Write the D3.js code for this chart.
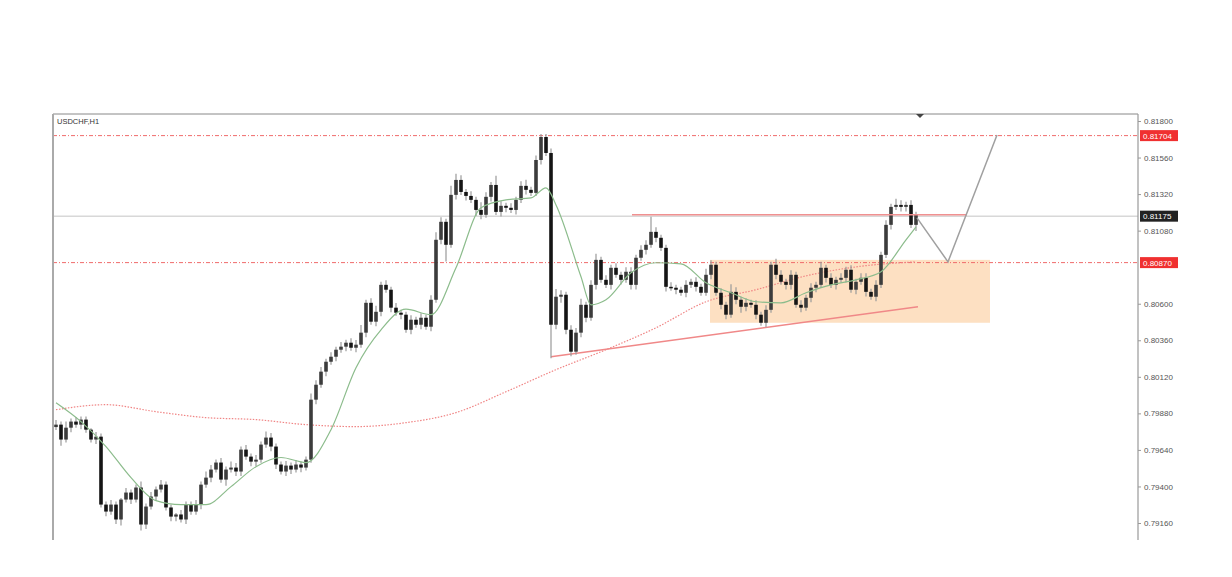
<!DOCTYPE html>
<html><head><meta charset="utf-8">
<script src="https://cdn.jsdelivr.net/npm/d3@7"></script>
<style>html,body{margin:0;padding:0;background:#fff}svg{display:block}</style>
</head><body>
<svg id="chart" width="1232" height="577"></svg>
<script>
// ---- data (USDCHF, H1) ----
const symbolTitle = "USDCHF,H1";
const firstOpen = 0.79790;
const closes = [
0.79806,0.79708,0.79786,0.79826,0.79806,0.79839,0.79773,0.79708,0.79727,0.79281,
0.79235,0.79281,0.79183,0.79314,0.79360,0.79314,0.79393,0.79150,0.79268,0.79334,
0.79380,0.79412,0.79262,0.79202,0.79216,0.79183,0.79281,0.79235,0.79281,0.79412,
0.79458,0.79511,0.79557,0.79445,0.79511,0.79524,0.79498,0.79642,0.79596,0.79563,
0.79576,0.79675,0.79721,0.79662,0.79544,0.79498,0.79537,0.79511,0.79544,0.79524,
0.79576,0.79970,0.80068,0.80154,0.80219,0.80252,0.80298,0.80318,0.80344,0.80311,
0.80331,0.80410,0.80606,0.80482,0.80547,0.80724,0.80692,0.80574,0.80541,0.80528,
0.80429,0.80495,0.80462,0.80508,0.80449,0.80626,0.81020,0.81138,0.80987,0.81315,
0.81413,0.81334,0.81308,0.81282,0.81216,0.81184,0.81302,0.81380,0.81203,0.81243,
0.81230,0.81216,0.81282,0.81374,0.81348,0.81328,0.81544,0.81695,0.81590,0.80462,
0.80646,0.80659,0.80429,0.80285,0.80410,0.80593,0.80508,0.80724,0.80888,0.80757,
0.80724,0.80836,0.80790,0.80757,0.80810,0.80724,0.80902,0.80954,0.80987,0.81072,
0.81033,0.80967,0.80711,0.80705,0.80692,0.80672,0.80724,0.80744,0.80711,0.80672,
0.80790,0.80856,0.80672,0.80593,0.80528,0.80678,0.80626,0.80580,0.80606,0.80593,
0.80528,0.80475,0.80560,0.80856,0.80790,0.80744,0.80724,0.80790,0.80593,0.80574,
0.80639,0.80705,0.80724,0.80836,0.80770,0.80724,0.80757,0.80770,0.80823,0.80692,
0.80744,0.80770,0.80678,0.80646,0.80724,0.80921,0.81118,0.81236,0.81249,0.81236,
0.81249,0.81118,0.81184
];
// shadows in pips (0.0001)
const upperShadow = [
3,2,4,2,3,2,2,1,3,2, 2,3,2,1,3,2,2,4,2,3, 2,3,2,2,1,3,2,2,3,2, 4,3,2,3,2,4,3,2,3,2,
3,2,4,3,2,2,3,2,3,2, 2,4,3,3,2,3,2,3,2,3, 3,5,2,3,4,2,3,2,3,2, 2,3,2,3,2,3,5,3,2,6,
4,3,2,3,2,5,3,2,6,3, 2,3,2,3,4,2,3,2,2,3, 5,3,2,3,3,4,2,3,4,2, 3,2,3,2,3,3,2,3,3,10,
3,2,2,3,2,2,3,2,3,2, 4,3,2,3,2,5,3,2,3,2, 3,2,3,2,4,3,2,3,2,3, 2,3,2,4,2,3,2,3,2,3,
2,3,3,2,3,2,3,2,4,3, 2,3,2
];
const lowerShadow = [
2,4,2,3,2,3,2,2,3,2, 3,2,3,4,2,3,2,4,3,2, 3,2,2,3,3,2,3,2,2,3, 2,3,2,2,4,2,3,3,2,3,
3,2,2,3,3,2,3,3,2,3, 2,2,3,2,3,2,3,2,3,2, 3,2,3,2,3,3,2,3,2,3, 2,3,2,3,2,3,2,3,11,2,
3,2,3,2,4,3,2,3,2,3, 3,2,3,2,3,2,2,3,2,22, 3,4,3,3,2,3,3,2,3,2, 2,3,2,3,2,3,3,2,3,2,
3,2,3,2,3,2,3,2,3,2, 2,3,2,3,3,2,3,4,3,2, 3,2,3,2,3,2,3,3,2,3, 2,3,3,2,3,2,3,2,3,2,
3,2,3,2,3,2,2,3,2,3, 3,2,4
];
// moving averages: [bar index, price]
const fastMA = [
[0,0.79950],[5,0.79826],[10,0.79662],[15,0.79458],[20,0.79307],[25,0.79281],[30,0.79281],
[35,0.79399],[40,0.79530],[45,0.79590],[50,0.79557],[55,0.79773],[60,0.80180],[65,0.80429],
[70,0.80564],[75,0.80528],[80,0.80836],[85,0.81230],[90,0.81282],[95,0.81295],[98,0.81361],
[100,0.81249],[105,0.80777],[107,0.80593],[110,0.80626],[115,0.80803],[120,0.80869],[125,0.80862],
[130,0.80738],[135,0.80672],[140,0.80613],[145,0.80606],[150,0.80672],[155,0.80724],[160,0.80757],
[165,0.80810],[170,0.81020],[172,0.81105]
];
const slowMA = [
[0,0.79904],[10,0.79937],[20,0.79891],[30,0.79852],[40,0.79839],[50,0.79806],[60,0.79793],
[70,0.79819],[80,0.79885],[90,0.80022],[100,0.80167],[110,0.80298],[120,0.80442],[130,0.80613],
[140,0.80692],[150,0.80783],[160,0.80842],[172,0.80875]
];
const levelHigh = 0.81704;
const levelBid = 0.81175;
const levelLow = 0.80870;
const resistance = [[115.2,0.81184],[182.2,0.81184]];
const trendline = [[99,0.80252],[172.4,0.80580]];
const zone = {i0:130.8, i1:186.8, top:0.80888, bottom:0.80475};
const projection = [[172.2,0.81164],[178.4,0.80875],[188.2,0.81708]];
const shiftMarkerBar = 172.8;
const tickValues = [0.81800,0.81560,0.81320,0.81080,0.80600,0.80360,0.80120,0.79880,0.79640,0.79400,0.79160];

// ---- layout ----
const L = 53, R = 1138, T = 114, B = 540;
const svg = d3.select("#chart");
const x = d3.scaleLinear().domain([0,172]).range([56,916]);
const y = d3.scaleLinear().domain([0.79160,0.81800]).range([523,121]);

svg.append("defs").append("clipPath").attr("id","plot")
  .append("rect").attr("x",L).attr("y",T).attr("width",R-L).attr("height",B-T);
const g = svg.append("g").attr("clip-path","url(#plot)");

// zone box
g.append("rect").attr("x",x(zone.i0)).attr("y",y(zone.top))
  .attr("width",x(zone.i1)-x(zone.i0)).attr("height",y(zone.bottom)-y(zone.top))
  .attr("fill","#fde0c2");

// horizontal levels
g.append("line").attr("x1",L).attr("x2",R).attr("y1",y(levelBid)).attr("y2",y(levelBid))
  .attr("stroke","#c4c4c4").attr("stroke-width",1);
[levelHigh, levelLow].forEach(v=>{
  g.append("line").attr("x1",L).attr("x2",R).attr("y1",y(v)).attr("y2",y(v))
   .attr("stroke","#f06a6a").attr("stroke-width",1).attr("stroke-dasharray","4,2,1,2");
});

const line = d3.line().x(d=>x(d[0])).y(d=>y(d[1]));
const smooth = d3.line().x(d=>x(d[0])).y(d=>y(d[1])).curve(d3.curveMonotoneX);

// slow MA dotted
g.append("path").attr("d",smooth(slowMA)).attr("fill","none")
  .attr("stroke","#f08484").attr("stroke-width",1.2).attr("stroke-dasharray","1.5,1.5");

// trendline
g.append("path").attr("d",line(trendline)).attr("fill","none")
  .attr("stroke","#f08888").attr("stroke-width",1.5);

// candles
const bars = closes.map((c,i)=>{
  const o = i ? closes[i-1] : firstOpen;
  return {i,o,c,h:Math.max(o,c)+upperShadow[i]*1e-4,l:Math.min(o,c)-lowerShadow[i]*1e-4};
});
const cg = g.append("g");
cg.selectAll("line.w").data(bars).join("line").attr("class","w")
  .attr("x1",d=>x(d.i)).attr("x2",d=>x(d.i))
  .attr("y1",d=>y(d.h)).attr("y2",d=>y(d.l))
  .attr("stroke","#999").attr("stroke-width",1.2);
cg.selectAll("rect.b").data(bars).join("rect").attr("class","b")
  .attr("x",d=>x(d.i)-1.8).attr("width",3.6)
  .attr("y",d=>y(Math.max(d.o,d.c)))
  .attr("height",d=>Math.max(1.5,Math.abs(y(d.o)-y(d.c))))
  .attr("fill",d=>d.c>=d.o?"#3c3c3c":"#151515");

// fast MA
g.append("path").attr("d",smooth(fastMA)).attr("fill","none")
  .attr("stroke","#8cbc8c").attr("stroke-width",1.2);

// resistance line
g.append("path").attr("d",line(resistance)).attr("fill","none")
  .attr("stroke","#f09090").attr("stroke-width",1.5);

// projection path
g.append("path").attr("d",line(projection)).attr("fill","none")
  .attr("stroke","#a0a0a0").attr("stroke-width",1.5);

// frame
svg.append("line").attr("x1",L).attr("x2",R).attr("y1",T).attr("y2",T).attr("stroke","#888").attr("stroke-width",1);
svg.append("line").attr("x1",L).attr("x2",L).attr("y1",T).attr("y2",B).attr("stroke","#aaa").attr("stroke-width",2);
svg.append("line").attr("x1",R).attr("x2",R).attr("y1",T).attr("y2",B).attr("stroke","#999").attr("stroke-width",1.2);

// shift marker
const mx = x(shiftMarkerBar);
svg.append("path").attr("d",`M${mx-4},${T} L${mx+4},${T} L${mx},${T+4} Z`).attr("fill","#444");

// title
svg.append("text").attr("x",57).attr("y",124).text(symbolTitle)
  .attr("font-family","Liberation Sans, Arial, sans-serif").attr("font-size",7.5).attr("fill","#333");

// right axis
const axis = d3.axisRight(y).tickValues(tickValues).tickFormat(d3.format(".5f")).tickSize(3).tickPadding(3);
const ag = svg.append("g").attr("transform",`translate(${R},0)`).call(axis);
ag.select(".domain").remove();
ag.selectAll("line").attr("stroke","#999");
ag.selectAll("text").attr("font-family","Liberation Sans, Arial, sans-serif").attr("font-size",8).attr("fill","#555");

// price labels
[[levelHigh,"#f03030"],[levelBid,"#222"],[levelLow,"#f03030"]].forEach(([v,col])=>{
  const yy = y(v);
  svg.append("rect").attr("x",R+2).attr("y",yy-5.5).attr("width",38).attr("height",11).attr("fill",col);
  svg.append("text").attr("x",R+5).attr("y",yy+3).text(d3.format(".5f")(v))
    .attr("font-family","Liberation Sans, Arial, sans-serif").attr("font-size",8).attr("fill","#fff");
});
</script>
</body></html>
